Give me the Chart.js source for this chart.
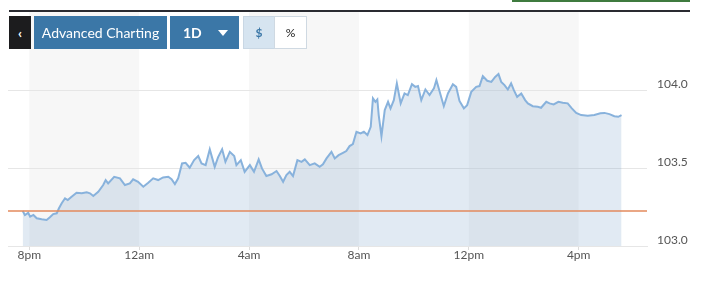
<!DOCTYPE html>
<html lang="en">
<head>
<meta charset="UTF-8">
<title>DXY 1D</title>
<script src="https://cdn.jsdelivr.net/npm/chart.js"></script>
<style>
body {
  margin: 0;
  background: #fff;
  font-family: Lato, sans-serif;
}
#wrap {
  position: relative;
  width: 712px;
  height: 281px;
  overflow: hidden;
}
#chart {
  position: absolute;
  left: 0;
  top: -5px;
}
.topline {
  position: absolute;
  left: 9px;
  top: 10px;
  width: 681px;
  height: 2px;
  background: #2a2b31;
  z-index: 2;
}
.greenline {
  position: absolute;
  left: 512px;
  top: 0;
  width: 178px;
  height: 2px;
  background: #3f7b3f;
  z-index: 2;
}
.btn {
  position: absolute;
  top: 16px;
  height: 33px;
  line-height: 33px;
  color: #fff;
  font-size: 14px;
  text-align: center;
  box-sizing: border-box;
  z-index: 2;
}
</style>
</head>
<body>
<div id="wrap">
  <canvas id="chart" width="712" height="286"></canvas>
  <div class="greenline"></div>
  <div class="topline"></div>
  <div class="btn" style="left:9px;width:22px;background:#1c1c1e;font-weight:bold;">&lsaquo;</div>
  <div class="btn" style="left:34px;width:133px;background:#3b77a7;">Advanced Charting</div>
  <div class="btn" style="left:170px;width:69px;background:#3b77a7;font-weight:bold;text-align:left;padding-left:13px;">1D
    <span style="position:absolute;left:48px;top:14px;width:0;height:0;border-left:5px solid transparent;border-right:5px solid transparent;border-top:6px solid #fff;"></span>
  </div>
  <div class="btn" style="left:243px;width:32px;background:#d6e4f0;border:1px solid #c9d7e4;color:#3b77a7;font-weight:bold;font-size:12px;line-height:31px;">$</div>
  <div class="btn" style="left:274px;width:33px;background:#fff;border:1px solid #cfd9e2;color:#222;font-size:12px;line-height:31px;">%</div>
</div>

<script>
// hours after 8pm
const hours = [
  -0.24, -0.16, -0.04, 0.03, 0.15, 0.27, 0.45, 0.63, 0.75, 0.87, 1.00, 1.08, 1.18, 1.30, 1.40, 1.54, 1.72, 1.91, 2.09, 2.21,
  2.33, 2.51, 2.69, 2.78, 2.87, 3.09, 3.30, 3.48, 3.66, 3.78, 3.96, 4.15, 4.33, 4.51, 4.69, 4.87, 5.06, 5.18, 5.30, 5.42,
  5.56, 5.69, 5.84, 6.00, 6.15, 6.27, 6.42, 6.57, 6.75, 6.87, 7.02, 7.14, 7.30, 7.46, 7.54, 7.70, 7.84, 8.03, 8.18, 8.35,
  8.47, 8.63, 8.82, 9.00, 9.12, 9.24, 9.36, 9.48, 9.60, 9.76, 9.91, 10.03, 10.21, 10.39, 10.57, 10.69, 10.82, 11.00, 11.12, 11.26,
  11.42, 11.54, 11.66, 11.78, 11.91, 12.06, 12.18, 12.31, 12.43, 12.51, 12.60, 12.67, 12.72, 12.82, 12.94, 13.06, 13.15, 13.27, 13.38, 13.52,
  13.66, 13.78, 13.93, 14.05, 14.15, 14.27, 14.42, 14.57, 14.73, 14.82, 14.94, 15.09, 15.24, 15.42, 15.54, 15.66, 15.82, 15.94, 16.09, 16.27,
  16.39, 16.51, 16.67, 16.82, 16.96, 17.08, 17.18, 17.30, 17.42, 17.54, 17.64, 17.76, 17.91, 18.05, 18.15, 18.33, 18.51, 18.63, 18.82, 18.94,
  19.09, 19.26, 19.42, 19.60, 19.75, 19.91, 20.09, 20.33, 20.57, 20.79, 20.94, 21.12, 21.30, 21.44, 21.56
];
const dxy = [
  103.224, 103.199, 103.213, 103.188, 103.199, 103.178, 103.171, 103.167, 103.184, 103.205, 103.210, 103.242, 103.274, 103.306, 103.295, 103.316, 103.342, 103.338, 103.344, 103.338,
  103.321, 103.348, 103.391, 103.423, 103.402, 103.444, 103.434, 103.391, 103.402, 103.428, 103.412, 103.380, 103.406, 103.434, 103.423, 103.440, 103.444, 103.428, 103.397, 103.434,
  103.530, 103.534, 103.502, 103.551, 103.577, 103.530, 103.519, 103.620, 103.508, 103.569, 103.620, 103.540, 103.604, 103.577, 103.519, 103.551, 103.476, 103.519, 103.476, 103.556,
  103.498, 103.449, 103.460, 103.481, 103.449, 103.412, 103.455, 103.476, 103.449, 103.551, 103.540, 103.556, 103.519, 103.530, 103.508, 103.524, 103.562, 103.604, 103.562, 103.583,
  103.598, 103.609, 103.641, 103.654, 103.733, 103.722, 103.733, 103.712, 103.765, 103.947, 103.925, 103.940, 103.840, 103.705, 103.872, 103.925, 103.883, 103.936, 104.043, 103.915,
  103.979, 103.968, 104.038, 104.021, 104.026, 103.936, 104.004, 103.968, 104.011, 104.064, 103.989, 103.897, 103.979, 104.038, 104.021, 103.931, 103.883, 103.904, 103.989, 104.021,
  104.026, 104.090, 104.060, 104.053, 104.085, 104.103, 104.053, 104.032, 104.004, 104.043, 104.000, 103.957, 103.979, 103.936, 103.915, 103.897, 103.893, 103.887, 103.925, 103.915,
  103.908, 103.925, 103.919, 103.915, 103.883, 103.854, 103.840, 103.835, 103.840, 103.851, 103.854, 103.846, 103.833, 103.829, 103.840
];
const prevClose = 103.226;
const tickHours = [0, 4, 8, 12, 16, 20];
const tickLabels = ['8pm', '12am', '4am', '8am', '12pm', '4pm'];
const shadedBlocks = [[0, 4], [8, 12], [16, 20]];
const yTicks = [103.0, 103.5, 104.0];

const points = hours.map((h, i) => ({ x: h, y: dxy[i] }));

// grey 4h blocks behind everything
const bandsPlugin = {
  id: 'bands',
  beforeDraw(chart) {
    const { ctx, chartArea, scales } = chart;
    ctx.save();
    ctx.fillStyle = '#f7f7f7';
    shadedBlocks.forEach(b => {
      const x1 = scales.x.getPixelForValue(b[0]);
      const x2 = scales.x.getPixelForValue(b[1]);
      ctx.fillRect(x1, chartArea.top, x2 - x1, chartArea.bottom - chartArea.top);
    });
    ctx.restore();
  }
};

// previous close line
const closePlugin = {
  id: 'prevclose',
  afterDatasetsDraw(chart) {
    const { ctx, chartArea, scales } = chart;
    const y = Math.round(scales.y.getPixelForValue(prevClose));
    ctx.save();
    ctx.strokeStyle = '#e38a5c';
    ctx.lineWidth = 1.5;
    ctx.beginPath();
    ctx.moveTo(chartArea.left, y);
    ctx.lineTo(chartArea.right, y);
    ctx.stroke();
    ctx.restore();
  }
};

new Chart(document.getElementById('chart'), {
  type: 'line',
  data: {
    datasets: [{
      data: points,
      borderColor: '#88b2dc',
      borderWidth: 2,
      backgroundColor: 'rgba(120,160,200,0.22)',
      fill: 'start',
      pointRadius: 0,
      tension: 0
    }]
  },
  options: {
    responsive: false,
    animation: false,
    parsing: false,
    layout: { padding: { top: 0, left: 8, right: 0, bottom: 0 } },
    plugins: { legend: { display: false }, tooltip: { enabled: false } },
    scales: {
      x: {
        type: 'linear',
        min: -0.7754,
        max: 22.487,
        afterBuildTicks(scale) {
          scale.ticks = tickHours.map(v => ({ value: v }));
        },
        afterFit(scale) { scale.height = 35; },
        ticks: {
          autoSkip: false,
          maxRotation: 0,
          padding: -2,
          color: '#555',
          font: { family: 'Lato', size: 12 },
          callback: (v) => tickLabels[tickHours.indexOf(v)] || ''
        },
        grid: { drawOnChartArea: false, drawTicks: true, tickLength: 4, color: '#dcdcdc' },
        border: { display: true, color: '#e6e6e6' }
      },
      y: {
        position: 'right',
        min: 103.0,
        max: 104.5,
        afterBuildTicks(scale) {
          scale.ticks = yTicks.map(v => ({ value: v }));
        },
        afterFit(scale) { scale.width = 65; },
        ticks: {
          padding: 10,
          labelOffset: -6,
          color: '#555',
          font: { family: 'Lato', size: 12 },
          callback: (v) => v.toFixed(1)
        },
        grid: { drawTicks: false, color: '#e6e6e6' },
        border: { display: false }
      }
    }
  },
  plugins: [bandsPlugin, closePlugin]
});
</script>
</body>
</html>
